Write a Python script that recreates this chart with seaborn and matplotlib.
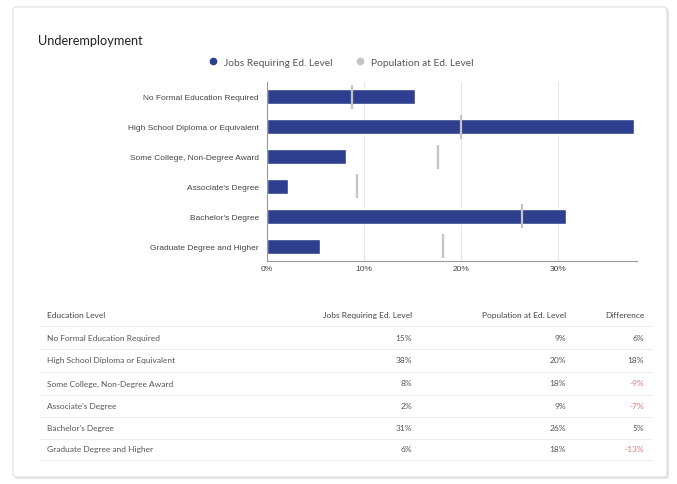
import matplotlib
matplotlib.use("Agg")
import matplotlib.pyplot as plt
import seaborn as sns
import pandas as pd
from matplotlib.patches import FancyBboxPatch
from matplotlib.lines import Line2D
from matplotlib.ticker import FuncFormatter

categories = ["No Formal Education Required", "High School Diploma or Equivalent",
              "Some College, Non-Degree Award", "Associate's Degree",
              "Bachelor's Degree", "Graduate Degree and Higher"]
jobs = [15.3, 37.9, 8.2, 2.2, 30.9, 5.5]
population = [8.8, 20.0, 17.7, 9.3, 26.3, 18.2]
table_jobs = ["15%", "38%", "8%", "2%", "31%", "6%"]
table_pop = ["9%", "20%", "18%", "9%", "26%", "18%"]
table_diff = ["6%", "18%", "-9%", "-7%", "5%", "-13%"]
x_ticks = [0, 10, 20, 30]

NAVY = "#2d3f8e"
GREY = "#c4c4c4"
TXT = "#555555"
RED = "#d9757a"

sns.set_style("white")
plt.rcParams['font.family'] = ['Liberation Sans', 'DejaVu Sans']

W, H = 677, 485
fig = plt.figure(figsize=(W / 100, H / 100), dpi=100)

# Background card
bg = fig.add_axes([0, 0, 1, 1])
bg.set_xlim(0, W)
bg.set_ylim(H, 0)
bg.axis("off")
shadow = FancyBboxPatch((15, 10), 654, 470, boxstyle="round,pad=0,rounding_size=3",
                        fc="#e6e6e6", ec="none", zorder=0)
card = FancyBboxPatch((13, 8), 654, 470, boxstyle="round,pad=0,rounding_size=3",
                      fc="white", ec="#dddddd", lw=0.8, zorder=1)
bg.add_patch(shadow)
bg.add_patch(card)

bg.text(38, 41, "Underemployment", fontsize=9.2, color="#222222",
        family=["Lato", "DejaVu Sans"], va="center", ha="left", zorder=3)

# Table
tfont = ["Lato", "DejaVu Sans"]
col_x = [47, 412, 566, 644]
header_y = 316
row_ys = [339, 361, 384, 407, 429, 450]
bg.text(col_x[0], header_y, "Education Level", fontsize=6, color="#444444",
        family=tfont, va="center", ha="left", zorder=3)
for xx, lab in zip(col_x[1:], ["Jobs Requiring Ed. Level", "Population at Ed. Level", "Difference"]):
    bg.text(xx, header_y, lab, fontsize=6, color="#444444", family=tfont,
            va="center", ha="right", zorder=3)
line_ys = [327, 350, 373, 396, 418, 440, 461]
for ly in line_ys:
    bg.plot([40, 652], [ly, ly], color="#eeeeee", lw=0.8, zorder=2)
for i, y in enumerate(row_ys):
    bg.text(col_x[0], y, categories[i], fontsize=6, color=TXT, family=tfont,
            va="center", ha="left", zorder=3)
    bg.text(col_x[1], y, table_jobs[i], fontsize=6, color=TXT, family=tfont,
            va="center", ha="right", zorder=3)
    bg.text(col_x[2], y, table_pop[i], fontsize=6, color=TXT, family=tfont,
            va="center", ha="right", zorder=3)
    d = table_diff[i]
    bg.text(col_x[3], y, d, fontsize=6, color=RED if d.startswith("-") else TXT,
            family=tfont, va="center", ha="right", zorder=3)

# Chart
x0, x1 = 267, 637
y_top, y_bot = 83, 262
ax = fig.add_axes([x0 / W, 1 - y_bot / H, (x1 - x0) / W, (y_bot - y_top) / H])
ax.set_facecolor("none")
df = pd.DataFrame({"Education": categories, "Jobs": jobs, "Population": population})
sns.barplot(data=df, y="Education", x="Jobs", orient="h", color=NAVY,
            saturation=1, width=0.5, ax=ax, zorder=2)
sns.scatterplot(data=df, y="Education", x="Population", marker="|", s=320,
                color=GREY, linewidth=1.6, ax=ax, zorder=3)
ax.set_xlim(0, 38.2)
ax.set_ylim(5.5, -0.5)
ax.set_xticks(x_ticks)
ax.xaxis.set_major_formatter(FuncFormatter(lambda v, p: f"{int(v)}%"))
ax.grid(axis="x", color="#e6e6e6", lw=0.8, zorder=0)
ax.set_axisbelow(True)
ax.set_xlabel("")
ax.set_ylabel("")
for s in ["top", "right"]:
    ax.spines[s].set_visible(False)
ax.spines["left"].set_color("#999999")
ax.spines["left"].set_linewidth(0.8)
ax.spines["bottom"].set_color("#999999")
ax.spines["bottom"].set_linewidth(0.8)
ax.tick_params(axis="both", length=0, labelsize=6, labelcolor="#444444")
ax.tick_params(axis="y", pad=6)
ax.tick_params(axis="x", pad=3)

handles = [Line2D([], [], marker="o", ls="none", color=NAVY, markersize=4.5),
           Line2D([], [], marker="o", ls="none", color=GREY, markersize=4.5)]
fig.legend(handles, ["Jobs Requiring Ed. Level", "Population at Ed. Level"],
           loc="center", bbox_to_anchor=(338 / W, 1 - 63 / H), ncol=2,
           frameon=False, handletextpad=0.1, columnspacing=1.6,
           labelcolor="#555555", prop={"family": ["Lato", "DejaVu Sans"], "size": 7.4})

fig.savefig("out.png", dpi=100)
